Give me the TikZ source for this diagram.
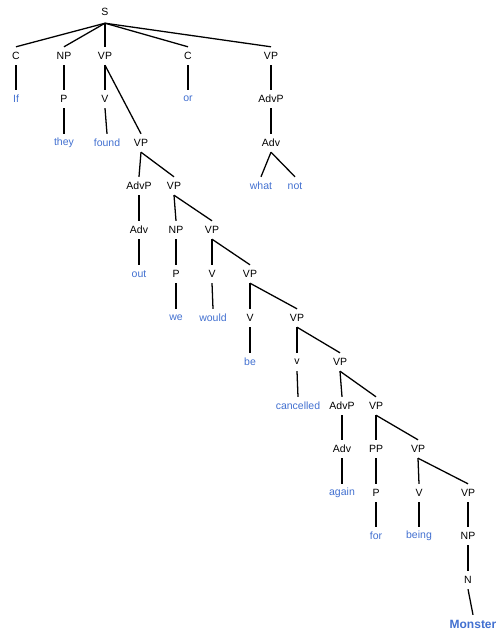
\documentclass[tikz,border=0pt]{standalone}
\usepackage{fontspec}
\setmainfont{Liberation Sans}
\usepackage{tikz}
\definecolor{wordblue}{RGB}{66,112,208}
\tikzstyle{cat} = [inner sep=1pt, minimum height=18pt, font=\fontsize{10.5}{12}\selectfont]
\tikzstyle{word} = [cat, text=wordblue]
\tikzstyle{branch} = [line width=0.45mm]

\begin{document}
\begin{tikzpicture}[x=1pt, y=-1pt]
                \useasboundingbox (0,0) rectangle (498,632);
                \node (s) [cat, minimum height=22pt] at (105,12) {S};

                \node (c1) [cat] at (16,56) {C};
                \node (np1) [cat] at (64,56) {NP};
                \node (vp1) [cat] at (105,56) {VP};
                \node (c2) [cat] at (188,56) {C};
                \node (vp11) [cat] at (271,56) {VP};

                \node (if) [word] at (16,99) {If};
                \node (p1) [cat] at (64,99) {P};
                \node (v1) [cat] at (105,99) {V};
                \node (or) [word] at (188,99) {or};
                \node (advp1) [cat] at (271,99) {AdvP};

                \node (they) [word] at (64,143) {they};
                \node (found) [word] at (107,143) {found};
                \node (vp2) [cat] at (141,143) {VP};
                \node (adv1) [cat] at (271,143) {Adv};

                \node (advp2) [cat] at (139,186) {AdvP};
                \node (vp3) [cat] at (174,186) {VP};
                \node (what) [word] at (261,186) {what};
                \node (not) [word] at (295,186) {not};

                \node (adv2) [cat] at (139,230) {Adv};
                \node (np2) [cat] at (176,230) {NP};
                \node (vp4) [cat] at (212,230) {VP};

                \node (out) [word] at (139,274) {out};
                \node (p2) [cat] at (176,274) {P};
                \node (v2) [cat] at (212,274) {V};
                \node (vp5) [cat] at (250,274) {VP};

                \node (we) [word] at (176,318) {we};
                \node (would) [word] at (213,318) {would};
                \node (v3) [cat] at (250,318) {V};
                \node (vp6) [cat] at (297,318) {VP};

                \node (be) [word] at (250,362) {be};
                \node (v4) [cat] at (297,362) {v};
                \node (vp7) [cat] at (340,362) {VP};

                \node (cancelled) [word] at (298,406) {cancelled};
                \node (advp3) [cat] at (342,406) {AdvP};
                \node (vp8) [cat] at (376,406) {VP};

                \node (adv3) [cat] at (342,449) {Adv};
                \node (pp) [cat] at (376,449) {PP};
                \node (vp9) [cat] at (418,449) {VP};

                \node (again) [word] at (342,493) {again};
                \node (p3) [cat] at (376,493) {P};
                \node (v5) [cat] at (419,493) {V};
                \node (vp10) [cat] at (468,493) {VP};

                \node (for) [word] at (376,536) {for};
                \node (being) [word] at (419,536) {being};
                \node (np3) [cat] at (468,536) {NP};

                \node (n) [cat] at (468,580) {N};
                \node (monster) [word, font=\fontsize{12}{14}\selectfont\bfseries] at (473,624) {Monster};

                \draw [branch] (s.south) -- (c1.north);
                \draw [branch] (s.south) -- (np1.north);
                \draw [branch] (s.south) -- (vp1.north);
                \draw [branch] (s.south) -- (c2.north);
                \draw [branch] (s.south) -- (vp11.north);
                \draw [branch] (c1) -- (if);
                \draw [branch] (np1) -- (p1);
                \draw [branch] (p1) -- (they);
                \draw [branch] (vp1) -- (v1);
                \draw [branch] (v1.south) -- (found.north);
                \draw [branch] (vp1.south) -- (vp2.north);
                \draw [branch] (c2) -- (or);
                \draw [branch] (vp11) -- (advp1);
                \draw [branch] (advp1) -- (adv1);
                \draw [branch] (adv1.south) -- (what.north);
                \draw [branch] (adv1.south) -- (not.north);
                \draw [branch] (vp2.south) -- (advp2.north);
                \draw [branch] (vp2.south) -- (vp3.north);
                \draw [branch] (advp2) -- (adv2);
                \draw [branch] (adv2) -- (out);
                \draw [branch] (vp3.south) -- (np2.north);
                \draw [branch] (vp3.south) -- (vp4.north);
                \draw [branch] (np2) -- (p2);
                \draw [branch] (p2) -- (we);
                \draw [branch] (vp4) -- (v2);
                \draw [branch] (v2.south) -- (would.north);
                \draw [branch] (vp4.south) -- (vp5.north);
                \draw [branch] (vp5) -- (v3);
                \draw [branch] (v3) -- (be);
                \draw [branch] (vp5.south) -- (vp6.north);
                \draw [branch] (vp6) -- (v4);
                \draw [branch] (v4.south) -- (cancelled.north);
                \draw [branch] (vp6.south) -- (vp7.north);
                \draw [branch] (vp7.south) -- (advp3.north);
                \draw [branch] (vp7.south) -- (vp8.north);
                \draw [branch] (advp3) -- (adv3);
                \draw [branch] (adv3) -- (again);
                \draw [branch] (vp8) -- (pp);
                \draw [branch] (pp) -- (p3);
                \draw [branch] (p3) -- (for);
                \draw [branch] (vp8.south) -- (vp9.north);
                \draw [branch] (vp9.south) -- (v5.north);
                \draw [branch] (v5) -- (being);
                \draw [branch] (vp9.south) -- (vp10.north);
                \draw [branch] (vp10) -- (np3);
                \draw [branch] (np3) -- (n);
                \draw [branch] (n.south) -- (monster.north);
            \end{tikzpicture}
\end{document}
